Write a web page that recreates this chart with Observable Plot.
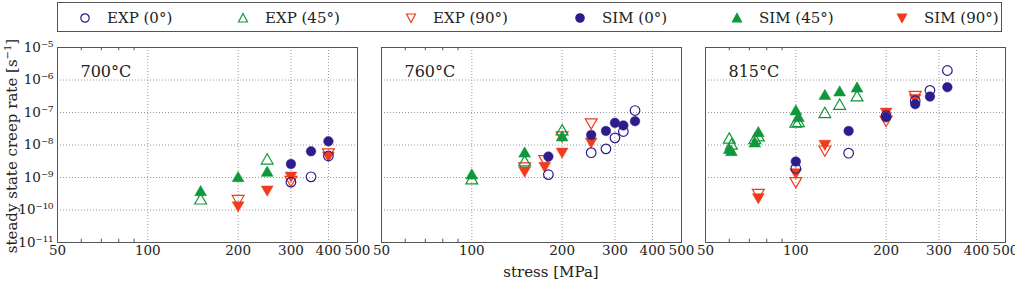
<!DOCTYPE html>
<html>
<head>
<meta charset="utf-8">
<script src="https://cdn.jsdelivr.net/npm/d3@7"></script>
<script src="https://cdn.jsdelivr.net/npm/@observablehq/plot@0.6"></script>
<style>
  html, body { margin: 0; padding: 0; background: #fff; }
  #wrap { position: relative; width: 1015px; height: 282px; font-family: "DejaVu Serif", serif; color: #222; overflow: hidden; }
  #legend { position: absolute; left: 57px; top: 2px; width: 945px; height: 30px; border: 1px solid #555; box-sizing: border-box; }
  .item { position: absolute; top: 0; height: 30px; display: flex; align-items: center; font-size: 15px; white-space: nowrap; }
  .item svg { margin-right: 16px; }
  #chart { position: absolute; left: 0; top: 38px; }
  #xlabel { position: absolute; top: 263px; left: 551px; transform: translateX(-50%); font-size: 15px; white-space: nowrap; line-height: 18px; }
  #ylabel { position: absolute; left: 10px; top: 146px; transform: translate(-50%, -50%) rotate(-90deg); font-size: 15px; white-space: nowrap; line-height: 16px; }
</style>
</head>
<body>
<div id="wrap">
  <div id="legend"></div>
  <div id="chart"></div>
  <div id="xlabel">stress [MPa]</div>
  <div id="ylabel">steady state creep rate [s<span style="font-size:10px;vertical-align:6px">−1</span>]</div>
</div>
<script>
// ---------------- data ----------------
const temps = ["700°C", "760°C", "815°C"];
const seriesNames = ["EXP (0°)", "EXP (45°)", "EXP (90°)", "SIM (0°)", "SIM (45°)", "SIM (90°)"];

// rows: [temperature, stress MPa, creep rate 1/s]
const exp0 = [
  ["700°C", 300, 7.2e-10], ["700°C", 350, 1.05e-9], ["700°C", 400, 4.6e-9],
  ["760°C", 180, 1.23e-9], ["760°C", 250, 5.8e-9], ["760°C", 280, 7.6e-9], ["760°C", 300, 1.66e-8], ["760°C", 320, 2.6e-8], ["760°C", 350, 1.15e-7],
  ["815°C", 100, 1.9e-9], ["815°C", 150, 5.6e-9], ["815°C", 200, 8e-8], ["815°C", 250, 2.3e-7], ["815°C", 280, 4.8e-7], ["815°C", 320, 1.96e-6]
];
const sim0 = [
  ["700°C", 300, 2.6e-9], ["700°C", 350, 6.4e-9], ["700°C", 400, 1.3e-8],
  ["760°C", 180, 4.4e-9], ["760°C", 250, 2.04e-8], ["760°C", 280, 2.7e-8], ["760°C", 300, 4.8e-8], ["760°C", 320, 4e-8], ["760°C", 350, 5.4e-8],
  ["815°C", 100, 3.1e-9], ["815°C", 150, 2.7e-8], ["815°C", 200, 7.2e-8], ["815°C", 250, 1.8e-7], ["815°C", 280, 3.1e-7], ["815°C", 320, 6e-7]
];
const exp45 = [
  ["700°C", 150, 1.95e-10], ["700°C", 250, 3.3e-9],
  ["760°C", 100, 8.1e-10], ["760°C", 150, 2.9e-9], ["760°C", 200, 2.6e-8],
  ["815°C", 60, 1.45e-8], ["815°C", 61, 9.5e-9], ["815°C", 73, 1.4e-8], ["815°C", 75, 1.7e-8], ["815°C", 100, 4.5e-8], ["815°C", 102, 4.7e-8],
  ["815°C", 125, 8.9e-8], ["815°C", 140, 1.6e-7], ["815°C", 160, 2.9e-7]
];
const sim45 = [
  ["700°C", 150, 3.5e-10], ["700°C", 200, 9.5e-10], ["700°C", 250, 1.38e-9],
  ["760°C", 100, 1.15e-9], ["760°C", 150, 5.4e-9], ["760°C", 200, 1.7e-8],
  ["815°C", 60, 7e-9], ["815°C", 61, 6e-9], ["815°C", 73, 1.1e-8], ["815°C", 75, 2.3e-8], ["815°C", 100, 1.07e-7], ["815°C", 102, 6.7e-8],
  ["815°C", 125, 3.2e-7], ["815°C", 140, 4.1e-7], ["815°C", 160, 5.4e-7]
];
const exp90 = [
  ["700°C", 200, 2.2e-10], ["700°C", 300, 8.5e-10], ["700°C", 400, 6e-9],
  ["760°C", 150, 2.2e-9], ["760°C", 175, 3.7e-9], ["760°C", 200, 2e-8], ["760°C", 250, 5e-8],
  ["815°C", 75, 3.4e-10], ["815°C", 100, 7.8e-10], ["815°C", 125, 7.3e-9], ["815°C", 200, 6e-8], ["815°C", 250, 3.5e-7]
];
const sim90 = [
  ["700°C", 200, 1.4e-10], ["700°C", 250, 4.3e-10], ["700°C", 300, 1.15e-9], ["700°C", 400, 4.8e-9],
  ["760°C", 150, 1.65e-9], ["760°C", 175, 2.3e-9], ["760°C", 200, 6.3e-9], ["760°C", 250, 1.3e-8],
  ["815°C", 75, 2.5e-10], ["815°C", 100, 1.45e-9], ["815°C", 125, 1.1e-8], ["815°C", 200, 1.07e-7], ["815°C", 250, 2.8e-7]
];

const xTicks = [50, 100, 200, 300, 400, 500];
const xTickLabels = ["50", "100", "200", "300", "400", "500"];
const xMinor = [60, 70, 80, 90];
const yTicks = [1e-11, 1e-10, 1e-9, 1e-8, 1e-7, 1e-6, 1e-5];
const yTickLabels = ["10⁻¹¹", "10⁻¹⁰", "10⁻⁹", "10⁻⁸", "10⁻⁷", "10⁻⁶", "10⁻⁵"];

// ---------------- styles ----------------
const BLUE = "#2c1d8c", GREEN = "#0f983b", RED = "#f03b1c";
const sqrt3 = Math.sqrt(3);
const triangleDown = {
  draw(context, size) {
    const y = -Math.sqrt(size / (sqrt3 * 3));
    context.moveTo(0, -y * 2);
    context.lineTo(-sqrt3 * y, y);
    context.lineTo(sqrt3 * y, y);
    context.closePath();
  }
};

const styles = [
  {data: exp90, symbol: triangleDown, color: RED, open: true},
  {data: sim90, symbol: triangleDown, color: RED, open: false},
  {data: sim0, symbol: "circle", color: BLUE, open: false},
  {data: exp0, symbol: "circle", color: BLUE, open: true},
  {data: sim45, symbol: "triangle", color: GREEN, open: false},
  {data: exp45, symbol: "triangle", color: GREEN, open: true}
];

const dotMarks = styles.map(s => Plot.dot(s.data, {
  fx: d => d[0], x: d => d[1], y: d => d[2],
  symbol: s.symbol, r: s.symbol === "circle" ? 4.8 : 4.4,
  fill: s.open ? "none" : s.color,
  stroke: s.color, strokeWidth: s.open ? 1.2 : 0.5
}));

const chart = Plot.plot({
  width: 1015, height: 244,
  marginTop: 9, marginBottom: 40, marginLeft: 57, marginRight: 9,
  style: {fontFamily: "'DejaVu Serif', serif", fontSize: "13.5px", color: "#222", background: "white", overflow: "visible"},
  fx: {domain: temps, axis: null, paddingInner: 0.074, paddingOuter: 0},
  x: {type: "log", domain: [50, 500]},
  y: {type: "log", domain: [1e-11, 1e-5]},
  marks: [
    Plot.gridX(xTicks, {stroke: "#9a9a9a", strokeOpacity: 1, strokeDasharray: "1,2"}),
    Plot.gridY(yTicks, {stroke: "#9a9a9a", strokeOpacity: 1, strokeDasharray: "1,2"}),
    Plot.ruleX(xMinor, {x: d => d, y1: 1e-11, y2: 10 ** -10.9, stroke: "#555"}),
    Plot.ruleX(xMinor, {x: d => d, y1: 1e-5, y2: 10 ** -5.1, stroke: "#555"}),
    Plot.frame({stroke: "#555"}),
    Plot.axisX({ticks: xTicks, tickFormat: d => xTickLabels[xTicks.indexOf(d)], tickSize: 0, tickPadding: 3, label: null}),
    Plot.axisY({ticks: yTicks, tickFormat: d => yTickLabels[yTicks.indexOf(d)], tickSize: 0, tickPadding: 4, label: null}),
    Plot.text(temps, {fx: d => d, text: d => d, frameAnchor: "top-left", dx: 23, dy: 18, fontSize: 16}),
    ...dotMarks
  ]
});
document.getElementById("chart").appendChild(chart);

// ---------------- legend ----------------
const legendOrder = [
  {name: seriesNames[0], symbol: "circle", color: BLUE, open: true},
  {name: seriesNames[1], symbol: "triangle", color: GREEN, open: true},
  {name: seriesNames[2], symbol: "down", color: RED, open: true},
  {name: seriesNames[3], symbol: "circle", color: BLUE, open: false},
  {name: seriesNames[4], symbol: "triangle", color: GREEN, open: false},
  {name: seriesNames[5], symbol: "down", color: RED, open: false}
];
const legendLeft = [21, 179, 347, 516, 673, 838]; // marker left positions inside legend box
const legend = document.getElementById("legend");
legendOrder.forEach((it, i) => {
  const div = document.createElement("div");
  div.className = "item";
  div.style.left = legendLeft[i] + "px";
  const fill = it.open ? "none" : it.color;
  let shape;
  if (it.symbol === "circle") shape = `<circle cx="6" cy="6" r="4.2" fill="${fill}" stroke="${it.color}" stroke-width="1.2"/>`;
  else if (it.symbol === "triangle") shape = `<path d="M6,1.5L10.5,10L1.5,10Z" fill="${fill}" stroke="${it.color}" stroke-width="1.2"/>`;
  else shape = `<path d="M1.5,2L10.5,2L6,10.5Z" fill="${fill}" stroke="${it.color}" stroke-width="1.2"/>`;
  div.innerHTML = `<svg width="12" height="12" viewBox="0 0 12 12">${shape}</svg><span>${it.name}</span>`;
  legend.appendChild(div);
});
</script>
</body>
</html>
